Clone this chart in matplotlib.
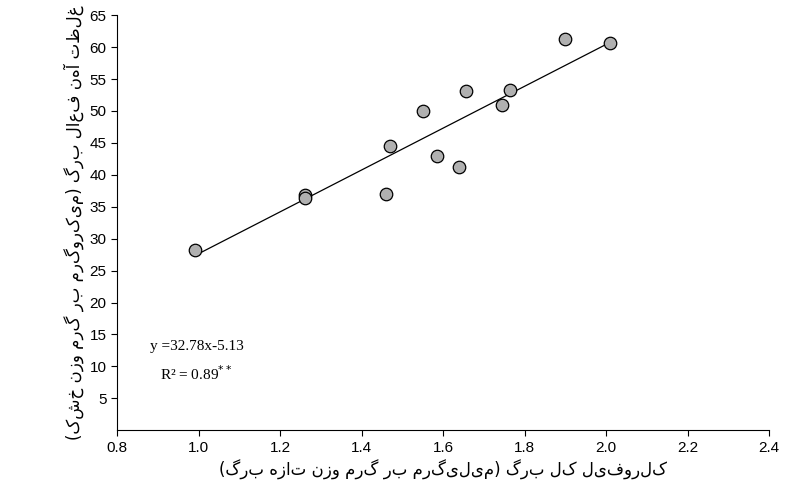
import matplotlib.pyplot as plt
import numpy as np

plt.rcParams['font.family'] = ['Liberation Sans', 'DejaVu Sans']

chl = [0.99, 1.26, 1.26, 1.46, 1.47, 1.55, 1.585, 1.64, 1.655, 1.745, 1.765, 1.90, 2.01]
fe = [28.3, 36.8, 36.3, 37.0, 44.5, 50.0, 43.0, 41.3, 53.2, 51.0, 53.3, 61.2, 60.7]
slope, intercept = 32.78, -5.13
xticks = [0.8, 1.0, 1.2, 1.4, 1.6, 1.8, 2.0, 2.2, 2.4]
yticks = list(range(5, 70, 5))

xlabel = 'کلروفیل کل برگ (میلی‌گرم بر گرم وزن تازه برگ)'
ylabel = 'غلظت آهن فعال برگ (میکروگرم بر گرم وزن خشک)'


def rtl(s):
    # crude visual ordering for right-to-left text (no shaping available)
    swap = {'(': ')', ')': '('}
    return ''.join(swap.get(c, c) for c in reversed(s.replace('\u200c', '')))


fig = plt.figure(figsize=(8.08, 4.9), dpi=100)
ax = fig.add_axes([0.145, 0.122, 0.807, 0.847])

xl = np.array([min(chl), max(chl)])
ax.plot(xl, slope * xl + intercept, color='black', lw=0.9)
ax.errorbar(chl, fe, yerr=0.6, fmt='o', ms=9, mfc='#b0b0b0', mec='black',
            mew=0.9, ecolor='black', elinewidth=0.8, capsize=3, zorder=3)

ax.set_xlim(0.8, 2.4)
ax.set_ylim(0, 65)
ax.set_xticks(xticks)
ax.set_xticklabels([f'{t:.1f}' for t in xticks])
ax.set_yticks(yticks)
ax.tick_params(labelsize=11, direction='out', length=4)
for s in ['top', 'right']:
    ax.spines[s].set_visible(False)

ax.set_xlabel(rtl(xlabel), fontsize=12, family=['DejaVu Sans'])
ax.set_ylabel(rtl(ylabel), fontsize=12, family=['DejaVu Sans'])

ax.text(0.88, 12.5, 'y =32.78x-5.13', fontsize=11, family='Liberation Serif')
ax.text(0.905, 7.8, 'R² = 0.89$^{**}$', fontsize=11, family='Liberation Serif')

fig.savefig('out.png', dpi=100)
